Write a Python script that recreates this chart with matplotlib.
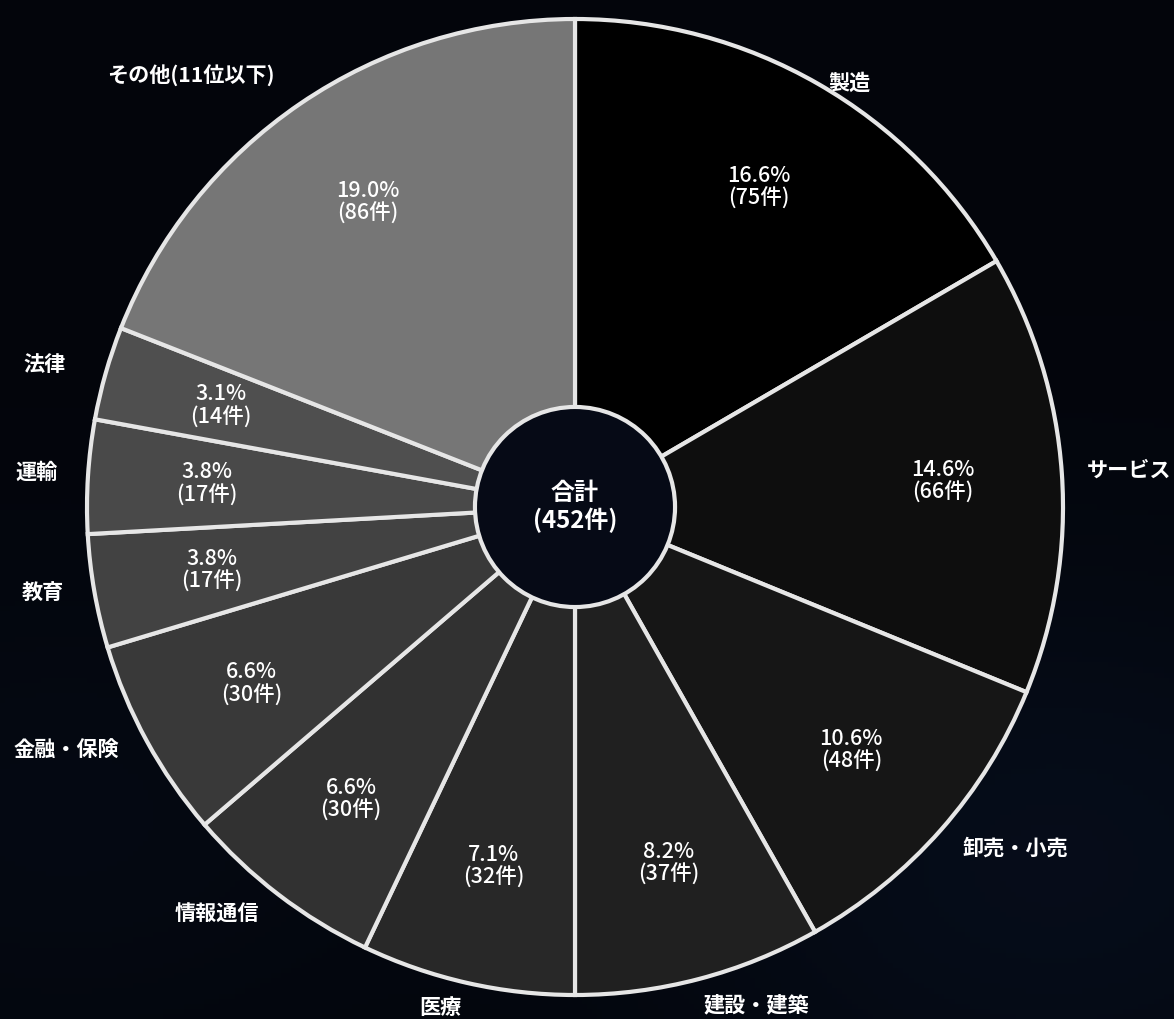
import matplotlib
matplotlib.use("Agg")
import matplotlib.pyplot as plt
from matplotlib.patches import Circle
import numpy as np

plt.rcParams['font.family'] = ['Noto Sans CJK JP', 'DejaVu Sans']

categories = ['製造', 'サービス', '卸売・小売', '建設・建築', '医療', '情報通信',
              '金融・保険', '教育', '運輸', '法律', 'その他(11位以下)']
counts = [75, 66, 48, 37, 32, 30, 30, 17, 17, 14, 86]
colors = ['#000000', '#0e0e0e', '#161616', '#202020', '#282828', '#313131',
          '#393939', '#424242', '#494949', '#4f4f4f', '#767676']

# label placement style: (radial distance factor, angular shift in degrees, clockwise)
label_style = [(1.035, 3.1), (1.137, 0.2), (1.141, -3.6), (1.087, -5.3),
               (1.063, 2.3), (1.112, 3.9), (1.156, 3.1), (1.105, 0.7),
               (1.105, 0.1), (1.125, -0.9), (1.183, -7.4)]

total = sum(counts)

W, H = 1174, 1019
fig = plt.figure(figsize=(W / 100, H / 100), dpi=100)
fig.patch.set_facecolor('#03050b')

ax = fig.add_axes([0, 0, 1, 1])
ax.set_facecolor('#03050b')

# subtle bluish glow in the lower part of the background
yy, xx = np.mgrid[0:1:200j, 0:1:230j]
glow = np.exp(-(((xx - 0.9) / 0.35) ** 2 + ((yy - 0.15) / 0.3) ** 2)) * 0.6 \
     + np.exp(-(((xx - 0.05) / 0.3) ** 2 + ((yy - 0.2) / 0.25) ** 2)) * 0.3
rgb = np.zeros((200, 230, 3))
rgb[..., 0] = 0.012 + 0.02 * glow
rgb[..., 1] = 0.02 + 0.05 * glow
rgb[..., 2] = 0.045 + 0.09 * glow
R = 488.0
cx, cy = 575.0, 1019 - 507.0
x0, x1 = -cx / R, (W - cx) / R
y0, y1 = -cy / R, (H - cy) / R
ax.imshow(rgb, extent=[x0, x1, y0, y1], origin='lower', aspect='auto', zorder=0)

wedges, _ = ax.pie(counts, colors=colors, startangle=90, counterclock=False,
                   radius=1.0, center=(0, 0),
                   wedgeprops=dict(edgecolor='#e6e6e6', linewidth=3.0),
                   labels=None)
for w in wedges:
    w.set_zorder(2)

pct_dist = 0.755
for w, cat, c, (ld, dth) in zip(wedges, categories, counts, label_style):
    mid = (w.theta1 + w.theta2) / 2.0
    ang = np.deg2rad(mid)
    ux, uy = np.cos(ang), np.sin(ang)
    la = np.deg2rad(mid - dth)
    ax.text(ld * np.cos(la), ld * np.sin(la), cat, ha='center', va='center',
            color='white', fontsize=15.2, fontweight='bold', zorder=5)
    pct = c / total * 100
    ax.text(pct_dist * ux, pct_dist * uy, f'{pct:.1f}%\n({c}件)', ha='center',
            va='center', color='white', fontsize=15.5, fontweight='medium',
            linespacing=1.05, zorder=5)

center = Circle((0, 0), 0.205, facecolor='#060a16', edgecolor='#e6e6e6',
                linewidth=3.0, zorder=4)
ax.add_patch(center)
ax.text(0, 0, f'合計\n({total}件)', ha='center', va='center', color='white',
        fontsize=17.3, fontweight='bold', linespacing=1.15, zorder=6)

ax.set_xlim(x0, x1)
ax.set_ylim(y0, y1)
ax.set_aspect('equal')
ax.axis('off')

fig.savefig('out.png', dpi=100, facecolor=fig.get_facecolor())
